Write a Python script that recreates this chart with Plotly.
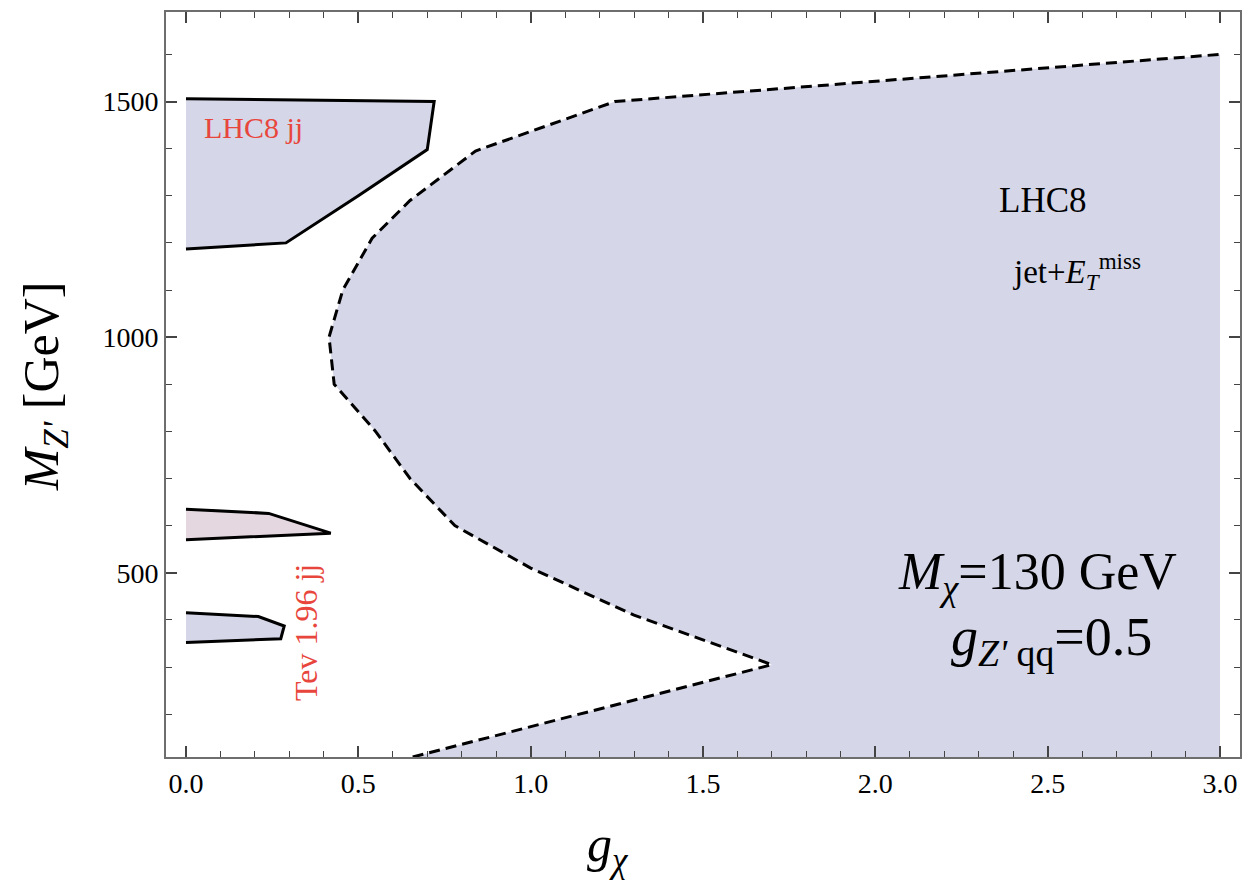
import plotly.graph_objects as go

# LHC8 jet+MET exclusion boundary (dashed), g_chi vs M_Z'
met_g = [0.61, 1.70, 1.30, 1.00, 0.78, 0.65, 0.55, 0.43, 0.415, 0.455, 0.54, 0.65, 0.84, 1.245, 3.0]
met_m = [100, 305, 410, 510, 600, 700, 800, 900, 1000, 1100, 1210, 1290, 1395, 1500, 1600]

# LHC8 dijet region
lhc_jj_g = [0.0, 0.72, 0.70, 0.50, 0.29, 0.0]
lhc_jj_m = [1506, 1500, 1398, 1300, 1200, 1187]

# Tevatron 1.96 dijet regions
tev_hi_g = [0.0, 0.24, 0.42, 0.0]
tev_hi_m = [635, 626, 584, 570]
tev_lo_g = [0.0, 0.21, 0.285, 0.275, 0.0]
tev_lo_m = [415, 407, 387, 360, 352]

xticks = [0.0, 0.5, 1.0, 1.5, 2.0, 2.5, 3.0]
yticks = [500, 1000, 1500]

FILL = "rgb(213,215,232)"
PINK = "rgb(229,215,223)"
SERIF = "Liberation Serif, Times New Roman, serif"

fig = go.Figure()

# MET fill region (to the right of dashed curve, up to g=3)
fx = met_g + [3.0, 3.0]
fy = met_m + [100, 100]
fig.add_trace(go.Scatter(x=fx, y=fy, fill="toself", fillcolor=FILL, mode="none",
                         hoverinfo="skip", showlegend=False))
fig.add_trace(go.Scatter(x=met_g, y=met_m, mode="lines",
                         line=dict(color="black", width=3, dash="11px,6px"),
                         showlegend=False))

fig.add_trace(go.Scatter(x=lhc_jj_g, y=lhc_jj_m, mode="lines", fill="toself", fillcolor=FILL,
                         line=dict(color="black", width=3), showlegend=False))
fig.add_trace(go.Scatter(x=tev_hi_g, y=tev_hi_m, mode="lines", fill="toself", fillcolor=PINK,
                         line=dict(color="black", width=3), showlegend=False))
fig.add_trace(go.Scatter(x=tev_lo_g, y=tev_lo_m, mode="lines", fill="toself", fillcolor=FILL,
                         line=dict(color="black", width=3), showlegend=False))

RED = "rgb(232,70,60)"
ann = [
    dict(x=0.195, y=1445, text="LHC8 jj", font=dict(size=30, color=RED, family=SERIF)),
    dict(x=0.348, y=374, text="Tev 1.96 jj", textangle=-90, font=dict(size=32, color=RED, family=SERIF)),
    dict(x=2.485, y=1289, text="LHC8", font=dict(size=35, color="black", family=SERIF)),
    dict(x=2.585, y=1140, text="jet+<i>E</i><sub><i>T</i></sub><sup>miss</sup>",
         font=dict(size=33, color="black", family=SERIF)),
    dict(x=2.47, y=494, text="<i>M</i><sub><i>χ</i></sub>=130 GeV",
         font=dict(size=52, color="black", family=SERIF)),
    dict(x=2.51, y=356, text="<i>g</i><sub><i>Z'</i> qq</sub>=0.5",
         font=dict(size=54, color="black", family=SERIF)),
]
for a in ann:
    a.update(xref="x", yref="y", showarrow=False)
    fig.add_annotation(**a)

# axis titles
fig.add_annotation(xref="paper", yref="paper", x=0.412, y=-0.122, yanchor="middle",
                   text="<i>g</i><sub><i>χ</i></sub>", showarrow=False,
                   font=dict(size=50, color="black", family=SERIF))
fig.add_annotation(xref="paper", yref="paper", x=-0.113, y=0.497, xanchor="center",
                   text="<i>M</i><sub><i>Z'</i></sub> [GeV]", textangle=-90, showarrow=False,
                   font=dict(size=50, color="black", family=SERIF))

axis_common = dict(showgrid=False, zeroline=False, showline=True, linecolor="#6e6e6e",
                   linewidth=2, mirror="ticks", ticks="inside", ticklen=11, tickwidth=1.5,
                   tickcolor="#444", tickfont=dict(size=28, color="black", family=SERIF))

fig.update_xaxes(range=[-0.058, 3.058], tickvals=xticks,
                 ticktext=[f"{v:.1f}" for v in xticks],
                 minor=dict(dtick=0.1, tick0=0, ticks="inside", ticklen=6, tickcolor="#444", tickwidth=1),
                 **axis_common)
fig.update_yaxes(range=[109, 1690], tickvals=yticks,
                 minor=dict(dtick=100, tick0=0, ticks="inside", ticklen=6, tickcolor="#444", tickwidth=1),
                 **axis_common)

fig.update_layout(width=1257, height=884, margin=dict(l=166, r=17, t=10, b=127),
                  plot_bgcolor="white", paper_bgcolor="white")

fig.write_html("out.html")
